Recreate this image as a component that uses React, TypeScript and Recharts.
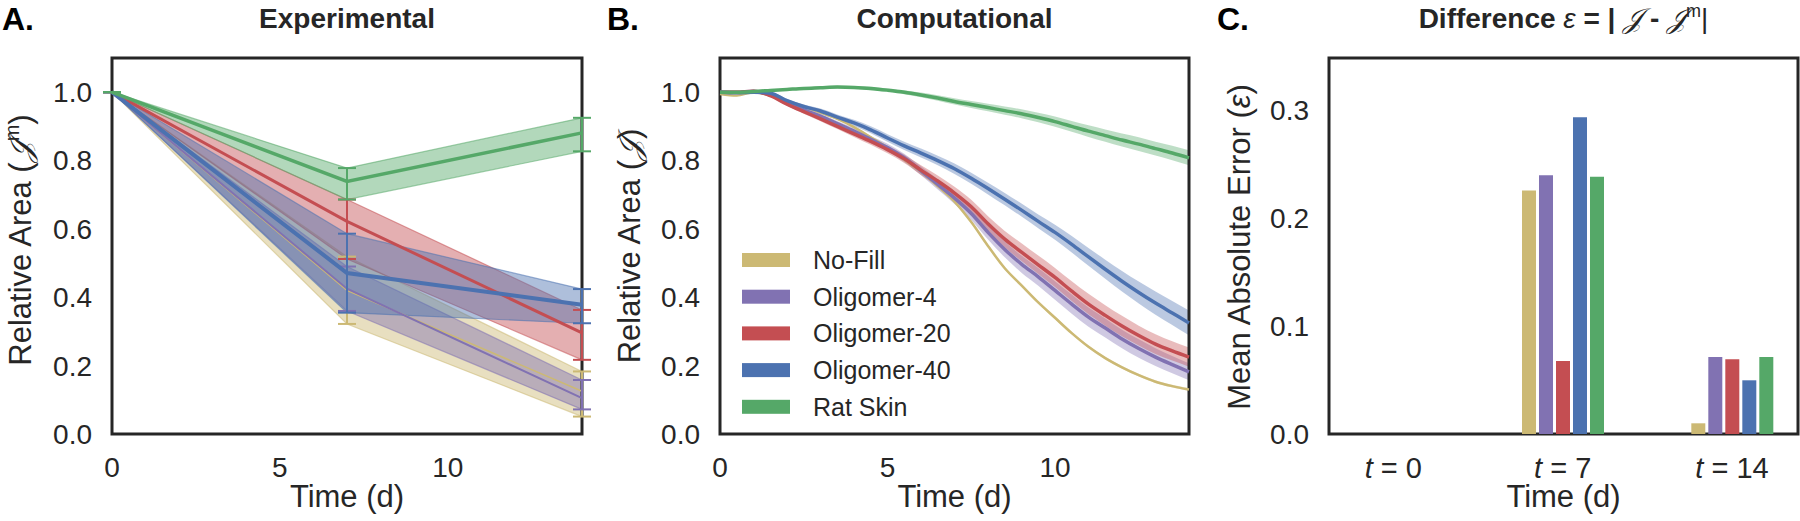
import React from 'react';
import { Area, Bar, ComposedChart, ErrorBar, Line, ReferenceArea, XAxis, YAxis } from 'recharts';

const seriesNames = ['No-Fill', 'Oligomer-4', 'Oligomer-20', 'Oligomer-40', 'Rat Skin'];
const seriesKeys = ['noFill', 'olig4', 'olig20', 'olig40', 'ratSkin'];
const seriesColors = ['#CCB974', '#8172B2', '#C44E52', '#4C72B0', '#55A868'];

// A. experimental (mean and band at day 0, 7, 14)
const expTimes = [0, 7, 14];
const expNoFillMean = [1, 0.42, 0.125];
const expNoFillLow = [1, 0.322, 0.051];
const expNoFillHigh = [1, 0.519, 0.183];
const expOlig4Mean = [1, 0.425, 0.105];
const expOlig4Low = [1, 0.36, 0.072];
const expOlig4High = [1, 0.49, 0.158];
const expOlig20Mean = [1, 0.622, 0.296];
const expOlig20Low = [1, 0.512, 0.217];
const expOlig20High = [1, 0.686, 0.363];
const expOlig40Mean = [1, 0.471, 0.378];
const expOlig40Low = [1, 0.355, 0.324];
const expOlig40High = [1, 0.586, 0.424];
const expRatMean = [1, 0.739, 0.881];
const expRatLow = [1, 0.686, 0.827];
const expRatHigh = [1, 0.778, 0.925];

// B. computational, every half day
const compTimes = [0, 0.5, 1, 1.5, 2, 2.5, 3, 3.5, 4, 4.5, 5, 5.5, 6, 6.5, 7, 7.5, 8, 8.5, 9, 9.5, 10, 10.5, 11, 11.5, 12, 12.5, 13, 13.5, 14];
const compNoFill = [0.995, 0.99, 1.0, 0.99, 0.972, 0.958, 0.94, 0.922, 0.898, 0.868, 0.838, 0.802, 0.767, 0.725, 0.68, 0.62, 0.55, 0.485, 0.435, 0.385, 0.34, 0.295, 0.255, 0.222, 0.195, 0.172, 0.153, 0.14, 0.13];
const compOlig4 = [1.0, 1.0, 1.003, 0.992, 0.968, 0.948, 0.93, 0.908, 0.886, 0.862, 0.838, 0.808, 0.77, 0.73, 0.69, 0.645, 0.59, 0.54, 0.497, 0.46, 0.42, 0.38, 0.342, 0.31, 0.278, 0.25, 0.225, 0.203, 0.182];
const compOlig20 = [1.0, 1.0, 1.003, 0.99, 0.965, 0.943, 0.922, 0.9, 0.878, 0.856, 0.832, 0.805, 0.772, 0.74, 0.705, 0.665, 0.615, 0.57, 0.532, 0.495, 0.458, 0.418, 0.38, 0.347, 0.316, 0.288, 0.263, 0.243, 0.225];
const compOlig40 = [1.0, 0.998, 1.0, 0.997, 0.975, 0.958, 0.945, 0.927, 0.91, 0.89, 0.866, 0.843, 0.822, 0.8, 0.776, 0.748, 0.718, 0.687, 0.655, 0.622, 0.59, 0.555, 0.518, 0.482, 0.447, 0.414, 0.383, 0.354, 0.325];
const compRat = [1.0, 1.0, 1.002, 1.005, 1.008, 1.011, 1.013, 1.015, 1.014, 1.011, 1.006, 1.0, 0.992, 0.983, 0.973, 0.964, 0.955, 0.946, 0.937, 0.926, 0.914, 0.9, 0.886, 0.873, 0.86, 0.848, 0.835, 0.822, 0.808];
// half-width of the shaded bands
const compNoFillSpread = [0, 0.002, 0.002, 0.003, 0.003, 0.003, 0.003, 0.003, 0.003, 0.003, 0.003, 0.004, 0.004, 0.004, 0.004, 0.004, 0.004, 0.004, 0.004, 0.004, 0.004, 0.004, 0.004, 0.004, 0.004, 0.004, 0.004, 0.004, 0.004];
const compOlig4Spread = [0, 0.002, 0.003, 0.004, 0.005, 0.006, 0.007, 0.008, 0.009, 0.01, 0.011, 0.012, 0.013, 0.015, 0.017, 0.019, 0.021, 0.023, 0.025, 0.026, 0.027, 0.028, 0.028, 0.028, 0.027, 0.027, 0.026, 0.025, 0.025];
const compOlig20Spread = [0, 0.002, 0.003, 0.004, 0.005, 0.006, 0.007, 0.008, 0.009, 0.01, 0.011, 0.012, 0.014, 0.016, 0.018, 0.02, 0.022, 0.024, 0.026, 0.027, 0.028, 0.029, 0.03, 0.03, 0.03, 0.029, 0.029, 0.028, 0.028];
const compOlig40Spread = [0, 0.002, 0.003, 0.004, 0.005, 0.006, 0.007, 0.008, 0.009, 0.01, 0.011, 0.012, 0.013, 0.014, 0.015, 0.016, 0.017, 0.018, 0.019, 0.02, 0.022, 0.024, 0.026, 0.028, 0.03, 0.032, 0.034, 0.035, 0.036];
const compRatSpread = [0, 0.002, 0.002, 0.003, 0.003, 0.003, 0.004, 0.004, 0.004, 0.005, 0.005, 0.006, 0.007, 0.008, 0.009, 0.01, 0.011, 0.012, 0.013, 0.014, 0.015, 0.016, 0.017, 0.018, 0.019, 0.02, 0.02, 0.021, 0.022];

// C. mean absolute error per time point
const maeTimes = [0, 7, 14];
const maeNoFill = [0, 0.2253, 0.0099];
const maeOlig4 = [0, 0.2395, 0.0713];
const maeOlig20 = [0, 0.0676, 0.0691];
const maeOlig40 = [0, 0.2932, 0.0497];
const maeRat = [0, 0.238, 0.0713];

const FONT = '"Liberation Sans", Arial, sans-serif';
const INK = '#262626';
const tickStyle = { fontFamily: FONT, fontSize: 28, fill: INK };

const expSeries = [
  [expNoFillMean, expNoFillLow, expNoFillHigh],
  [expOlig4Mean, expOlig4Low, expOlig4High],
  [expOlig20Mean, expOlig20Low, expOlig20High],
  [expOlig40Mean, expOlig40Low, expOlig40High],
  [expRatMean, expRatLow, expRatHigh],
];
const expWidths = [1.5, 2, 3, 4, 3.5];
const compWidths = [2.5, 3.5, 3.5, 3.5, 3.5];

const expData = expTimes.map((t, i) => {
  const row: any = { t };
  seriesKeys.forEach((k, s) => {
    const [m, lo, hi] = expSeries[s];
    row[k] = m[i];
    row[k + 'Band'] = [lo[i], hi[i]];
    row[k + 'Err'] = [m[i] - lo[i], hi[i] - m[i]];
  });
  return row;
});

const compSeries = [compNoFill, compOlig4, compOlig20, compOlig40, compRat];
const compSpreads = [compNoFillSpread, compOlig4Spread, compOlig20Spread, compOlig40Spread, compRatSpread];
const compData = compTimes.map((t, i) => {
  const row: any = { t };
  seriesKeys.forEach((k, s) => {
    row[k] = compSeries[s][i];
    row[k + 'Band'] = [compSeries[s][i] - compSpreads[s][i], compSeries[s][i] + compSpreads[s][i]];
  });
  return row;
});

const maeSeries = [maeNoFill, maeOlig4, maeOlig20, maeOlig40, maeRat];
const maeData = maeTimes.map((t, i) => {
  const row: any = { slot: i, time: t };
  seriesKeys.forEach((k, s) => {
    row[k] = maeSeries[s][i];
  });
  return row;
});

const TimeTick = (props: any) => {
  const { x, y, payload } = props;
  return (
    <text x={x} y={y} dy="0.71em" textAnchor="middle" fontFamily={FONT} fontSize={29} fill={INK}>
      <tspan fontStyle="italic">t</tspan>
      <tspan>{' = ' + maeTimes[payload.value]}</tspan>
    </text>
  );
};

const ExperimentalChart = () => (
  <ComposedChart width={600} height={521} data={expData} margin={{ top: 58, right: 18, bottom: 57, left: 52 }}>
    <XAxis dataKey="t" type="number" domain={[0, 14]} ticks={[0, 5, 10]} axisLine={false} tickLine={false} tickMargin={17} height={30} tick={tickStyle} />
    <YAxis type="number" domain={[0, 1.1]} ticks={[0, 0.2, 0.4, 0.6, 0.8, 1.0]} tickFormatter={(v: number) => v.toFixed(1)} axisLine={false} tickLine={false} tickMargin={14} width={60} tick={tickStyle} />
    {seriesKeys.map((k, s) => (
      <Area key={k + 'a'} dataKey={k + 'Band'} type="linear" fill={seriesColors[s]} fillOpacity={0.45} stroke={seriesColors[s]} strokeOpacity={0.55} strokeWidth={1.2} isAnimationActive={false} legendType="none" />
    ))}
    {seriesKeys.map((k, s) => (
      <Line key={k} dataKey={k} type="linear" stroke={seriesColors[s]} strokeWidth={expWidths[s]} dot={false} isAnimationActive={false}>
        <ErrorBar dataKey={k + 'Err'} direction="y" width={9} stroke={seriesColors[s]} strokeWidth={2} isAnimationActive={false} />
      </Line>
    ))}
    <ReferenceArea x1={0} x2={14} y1={0} y2={1.1} fill="none" stroke={INK} strokeWidth={3} ifOverflow="visible" />
  </ComposedChart>
);

const ComputationalChart = () => (
  <ComposedChart width={600} height={521} data={compData} margin={{ top: 58, right: 11, bottom: 57, left: 60 }}>
    <XAxis dataKey="t" type="number" domain={[0, 14]} ticks={[0, 5, 10]} axisLine={false} tickLine={false} tickMargin={17} height={30} tick={tickStyle} />
    <YAxis type="number" domain={[0, 1.1]} ticks={[0, 0.2, 0.4, 0.6, 0.8, 1.0]} tickFormatter={(v: number) => v.toFixed(1)} axisLine={false} tickLine={false} tickMargin={14} width={60} tick={tickStyle} />
    {seriesKeys.map((k, s) => (
      <Area key={k + 'a'} dataKey={k + 'Band'} type="monotone" fill={seriesColors[s]} fillOpacity={0.38} stroke="none" isAnimationActive={false} legendType="none" />
    ))}
    {seriesKeys.map((k, s) => (
      <Line key={k} dataKey={k} type="monotone" stroke={seriesColors[s]} strokeWidth={compWidths[s]} dot={false} isAnimationActive={false} />
    ))}
    <ReferenceArea x1={0} x2={14} y1={0} y2={1.1} fill="none" stroke={INK} strokeWidth={3} ifOverflow="visible" />
  </ComposedChart>
);

const ErrorChart = () => (
  <ComposedChart width={600} height={521} data={maeData} barGap={3} margin={{ top: 58, right: 2, bottom: 57, left: 69 }}>
    <XAxis dataKey="slot" type="number" domain={[-0.38, 2.39]} ticks={[0, 1, 2]} axisLine={false} tickLine={false} tickMargin={17} height={30} tick={<TimeTick />} />
    <YAxis type="number" domain={[0, 0.348]} ticks={[0, 0.1, 0.2, 0.3]} tickFormatter={(v: number) => v.toFixed(1)} axisLine={false} tickLine={false} tickMargin={14} width={60} tick={tickStyle} />
    {seriesKeys.map((k, s) => (
      <Bar key={k} dataKey={k} fill={seriesColors[s]} barSize={14} isAnimationActive={false} />
    ))}
    <ReferenceArea x1={-0.38} x2={2.39} y1={0} y2={0.348} fill="none" stroke={INK} strokeWidth={3} ifOverflow="visible" />
  </ComposedChart>
);

const Overlay = () => (
  <svg width={1800} height={521} style={{ position: 'absolute', left: 0, top: 0, pointerEvents: 'none' }} fontFamily={FONT} fill={INK}>
    <text x={2} y={30} fontSize={32} fontWeight="bold" fill="#000">A.</text>
    <text x={607} y={30} fontSize={32} fontWeight="bold" fill="#000">B.</text>
    <text x={1217} y={30} fontSize={32} fontWeight="bold" fill="#000">C.</text>
    <text x={347} y={28} fontSize={28} fontWeight="bold" textAnchor="middle">Experimental</text>
    <text x={954.5} y={28} fontSize={28} fontWeight="bold" textAnchor="middle">Computational</text>
    <text x={1563.5} y={28} fontSize={28} textAnchor="middle">
      <tspan fontWeight="bold">Difference </tspan>
      <tspan fontStyle="italic">ε</tspan>
      <tspan fontWeight="bold"> = | </tspan>
      <tspan fontStyle="italic">𝒥</tspan>
      <tspan fontWeight="bold"> - </tspan>
      <tspan fontStyle="italic">𝒥</tspan>
      <tspan fontSize={18} dy={-11}>m</tspan>
      <tspan dy={11}>|</tspan>
    </text>

    <text x={347} y={507} fontSize={31} textAnchor="middle">Time (d)</text>
    <text x={954.5} y={507} fontSize={31} textAnchor="middle">Time (d)</text>
    <text x={1563.5} y={507} fontSize={31} textAnchor="middle">Time (d)</text>

    <text transform="translate(31,240) rotate(-90)" fontSize={31} textAnchor="middle">
      Relative Area (<tspan fontStyle="italic">𝒥</tspan><tspan fontSize={20} dy={-12}>m</tspan><tspan dy={12}>)</tspan>
    </text>
    <text transform="translate(640,246) rotate(-90)" fontSize={31} textAnchor="middle">
      Relative Area (<tspan fontStyle="italic">𝒥</tspan>)
    </text>
    <text transform="translate(1250,247) rotate(-90)" fontSize={31} textAnchor="middle">
      Mean Absolute Error (<tspan fontStyle="italic">ε</tspan>)
    </text>

    {seriesNames.map((name, i) => (
      <g key={name}>
        <rect x={742} y={253 + i * 36.7} width={48} height={14} fill={seriesColors[i]} />
        <text x={813} y={260 + i * 36.7} dy="0.36em" fontSize={25}>{name}</text>
      </g>
    ))}
  </svg>
);

export default function App() {
  return (
    <div style={{ position: 'absolute', left: 0, top: 0, width: 1800, height: 521, background: '#fff' }}>
      <div style={{ position: 'absolute', left: 0, top: 0 }}>
        <ExperimentalChart />
      </div>
      <div style={{ position: 'absolute', left: 600, top: 0 }}>
        <ComputationalChart />
      </div>
      <div style={{ position: 'absolute', left: 1200, top: 0 }}>
        <ErrorChart />
      </div>
      <Overlay />
    </div>
  );
}
